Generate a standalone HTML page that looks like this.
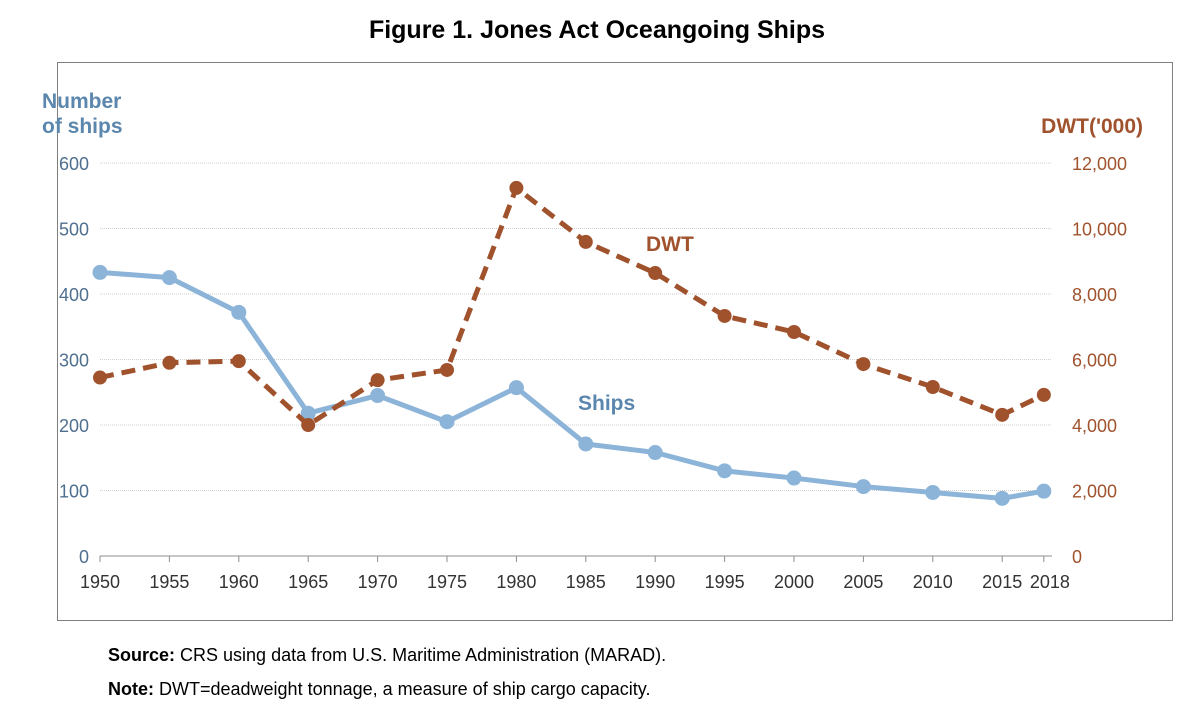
<!DOCTYPE html>
<html><head><meta charset="utf-8">
<style>
body{margin:0;background:#fff;width:1194px;height:720px;overflow:hidden;font-family:"Liberation Sans",sans-serif;}
#title{position:absolute;left:0;width:1194px;top:16px;text-align:center;font-weight:bold;font-size:25px;color:#000;}
#box{position:absolute;left:57px;top:62px;width:1114px;height:557px;border:1px solid #7f7f7f;}
.note{position:absolute;left:108px;font-size:18px;color:#000;}
</style></head><body>
<div id="title">Figure 1. Jones Act Oceangoing Ships</div>
<div id="box"></div>
<svg id="chart" width="1194" height="720" style="position:absolute;left:0;top:0"></svg>
<div class="note" style="top:645px"><b>Source:</b> CRS using data from U.S. Maritime Administration (MARAD).</div>
<div class="note" style="top:679px"><b>Note:</b> DWT=deadweight tonnage, a measure of ship cargo capacity.</div>
<script>
const years=[1950,1955,1960,1965,1970,1975,1980,1985,1990,1995,2000,2005,2010,2015,2018];
const ships=[433,425,372,218,245,205,257,171,158,130,119,106,97,88,99];
const dwt=[5450,5900,5950,4000,5370,5680,11240,9590,8640,7330,6840,5860,5160,4310,4920];
const leftTicks=[0,100,200,300,400,500,600];
const rightTicks=["0","2,000","4,000","6,000","8,000","10,000","12,000"];
const xLabels=[1950,1955,1960,1965,1970,1975,1980,1985,1990,1995,2000,2005,2010,2015,2018];
const svg=document.getElementById('chart');const NS='http://www.w3.org/2000/svg';
const x=y=>100+(y-1950)*13.88;
const yl=v=>556-v*0.655;
const yr=v=>556-v*0.03275;
function mk(t,a,p){const e=document.createElementNS(NS,t);for(const k in a)e.setAttribute(k,a[k]);(p||svg).appendChild(e);return e;}
leftTicks.forEach((v,i)=>{
 if(v>0){const g=mk('line',{x1:100,x2:1052,y1:yl(v),y2:yl(v),stroke:'#d0d0d0','stroke-width':1,'stroke-dasharray':'1,1'});
 }
 const t=mk('text',{x:89,y:yl(v)+7,'text-anchor':'end','font-size':18,fill:'#4f6f8f'});t.textContent=v;
 
 const r=mk('text',{x:1072,y:yl(v)+7,'font-size':18,fill:'#a0522d'});r.textContent=rightTicks[i];
 
});
mk('line',{x1:100,x2:1052,y1:556,y2:556,stroke:'#8c8c8c','stroke-width':1});
xLabels.forEach(v=>{
 mk('line',{x1:x(v),x2:x(v),y1:556,y2:562,stroke:'#8c8c8c'});
 const t=mk('text',{x:x(v)+(v==2018?6:0),y:588,'text-anchor':'middle','font-size':18,fill:'#333'});t.textContent=v;
 
});
const sl=mk('polyline',{points:years.map((y,i)=>x(y)+','+yl(ships[i])).join(' '),fill:'none',stroke:'#8cb4d8','stroke-width':5,'stroke-linejoin':'round'});

years.forEach((y,i)=>{const c=mk('circle',{cx:x(y),cy:yl(ships[i]),r:7.5,fill:'#8cb4d8'});
 });
const dl=mk('polyline',{points:years.map((y,i)=>x(y)+','+yr(dwt[i])).join(' '),fill:'none',stroke:'#a0522d','stroke-width':5,'stroke-dasharray':'14,8','stroke-linejoin':'round'});

years.forEach((y,i)=>{const c=mk('circle',{cx:x(y),cy:yr(dwt[i]),r:7,fill:'#a0522d'});
 });
function lab(txt,xx,yy,col,anchor,name){const t=mk('text',{x:xx,y:yy,'font-size':21,'font-weight':'bold',fill:col,'text-anchor':anchor||'start'});t.textContent=txt;
 }
lab('Number',42,108,'#5b86ad','start','left-axis-title');
lab('of ships',42,133,'#5b86ad','start','left-axis-title-2');
lab("DWT('000)",1143,133,'#a0522d','end','right-axis-title');
lab('DWT',646,251,'#a0522d','start','dwt-series-label');
lab('Ships',578,410,'#5b86ad','start','ships-series-label');
</script>
</body></html>
